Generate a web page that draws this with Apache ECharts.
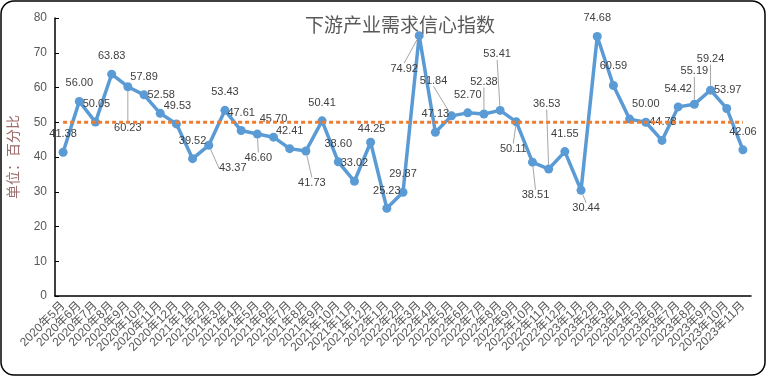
<!DOCTYPE html>
<html>
<head>
<meta charset="utf-8">
<script src="https://cdn.jsdelivr.net/npm/echarts@6/dist/echarts.min.js"></script>
<style>
  html, body { margin: 0; padding: 0; background: #fff; }
  #main { width: 767px; height: 377px; }
</style>
</head>
<body>
<div id="main"></div>
<script>
var months = [
  '2020年5月', '2020年6月', '2020年7月', '2020年8月', '2020年9月', '2020年10月', '2020年11月', '2020年12月',
  '2021年1月', '2021年2月', '2021年3月', '2021年4月', '2021年5月', '2021年6月', '2021年7月', '2021年8月',
  '2021年9月', '2021年10月', '2021年11月', '2021年12月',
  '2022年1月', '2022年2月', '2022年3月', '2022年4月', '2022年5月', '2022年6月', '2022年7月', '2022年8月',
  '2022年9月', '2022年10月', '2022年11月', '2022年12月',
  '2023年1月', '2023年2月', '2023年3月', '2023年4月', '2023年5月', '2023年6月', '2023年7月', '2023年8月',
  '2023年9月', '2023年10月', '2023年11月'
];
var confidence = [
  41.38, 56.00, 50.05, 63.83, 60.23, 57.89, 52.58, 49.53,
  39.52, 43.37, 53.43, 47.61, 46.60, 45.70, 42.41, 41.73,
  50.41, 38.60, 33.02, 44.25,
  25.23, 29.87, 74.92, 47.13, 51.84, 52.70, 52.38, 53.41,
  50.11, 38.51, 36.53, 41.55,
  30.44, 74.68, 60.59, 50.90, 50.00, 44.78, 54.42, 55.19,
  59.24, 53.97, 42.06
];
var baseline = 50;
var noLabel = [35];

// where each data label sits, relative to its point (px)
var labelShift = [
  [0, -18], [0, -18], [1, -18], [0, -18], [0, 41], [0, -18], [1, -18], [1, -18],
  [0, -18], [24, 23], [0, -18], [0, -18], [1, 24], [0, -18], [0, -18], [6, 32],
  [0, -18], [0, -18], [0, -18], [1, -13],
  [0, -17], [0, -18], [-15, 33], [0, -18], [-18, -35], [0, -18], [0, -32], [-3, -56],
  [-3, 27], [3, 33], [-2, -65], [0, -18],
  [5, 18], [0, -19], [0, -19], [0, 0], [0, -18], [1, -18], [0, -18], [0, -33],
  [0, -31], [1, -18], [0, -18]
];
var leaders = [4, 9, 12, 15, 22, 24, 26, 27, 28, 29, 30, 32, 39, 40];

var font = '"Liberation Sans", "Noto Sans CJK SC", sans-serif';

var lineData = confidence.map(function (v, i) {
  var item = { value: v };
  if (noLabel.indexOf(i) >= 0) item.label = { show: false };
  if (leaders.indexOf(i) >= 0) item.labelLine = { show: true };
  return item;
});
var refData = confidence.map(function () { return baseline; });

var chart = echarts.init(document.getElementById('main'));
var option = {
  backgroundColor: '#fff',
  animation: false,
  title: {
    text: '下游产业需求信心指数',
    left: 300,
    top: 12,
    textStyle: { fontSize: 19, fontWeight: 'normal', color: '#595959', fontFamily: font }
  },
  graphic: [{
    type: 'rect',
    shape: { x: 1, y: 1, width: 764, height: 374, r: 13 },
    style: { fill: null, stroke: '#000', lineWidth: 1.5 },
    z: 100
  }],
  grid: { left: 55, right: 16, top: 18, bottom: 81, outerBoundsMode: 'none' },
  xAxis: {
    type: 'category',
    data: months,
    boundaryGap: true,
    axisLine: { lineStyle: { color: '#000', width: 1.5 } },
    axisTick: { inside: true, length: 4, lineStyle: { color: '#000' } },
    axisLabel: {
      interval: 0, rotate: 45, fontSize: 12, margin: 8,
      color: '#595959', fontFamily: font
    }
  },
  yAxis: {
    type: 'value',
    min: 0, max: 80, interval: 10,
    name: '单位：百分比',
    nameLocation: 'middle',
    nameRotate: 90,
    nameGap: 34,
    nameTextStyle: { fontSize: 14, color: '#9e6b6b', fontFamily: font },
    axisLine: { show: true, lineStyle: { color: '#000', width: 1.5 } },
    axisTick: { show: true, inside: true, length: 4, lineStyle: { color: '#000' } },
    splitLine: { show: false },
    axisLabel: { fontSize: 12, margin: 8, color: '#595959', fontFamily: font }
  },
  series: [
    {
      name: '下游产业需求信心指数',
      type: 'line',
      data: lineData,
      z: 2,
      symbol: 'circle',
      symbolSize: 9,
      itemStyle: { color: '#5b9bd5' },
      lineStyle: { color: '#5b9bd5', width: 3.5 },
      label: {
        show: true,
        position: 'inside',
        fontSize: 11,
        color: '#404040',
        fontFamily: font,
        formatter: function (p) { return p.value.toFixed(2); }
      },
      labelLine: { show: false, lineStyle: { color: '#a6a6a6', width: 1 } },
      labelLayout: function (p) {
        var s = labelShift[p.dataIndex];
        return { dx: s[0], dy: s[1] };
      }
    },
    {
      name: '基准线',
      type: 'line',
      data: refData,
      z: 3,
      symbol: 'none',
      silent: true,
      lineStyle: { color: '#ed7d31', width: 3, type: [4, 3] }
    }
  ]
};
chart.setOption(option);
window.onresize = function () {
  chart.resize();
};
</script>
</body>
</html>
